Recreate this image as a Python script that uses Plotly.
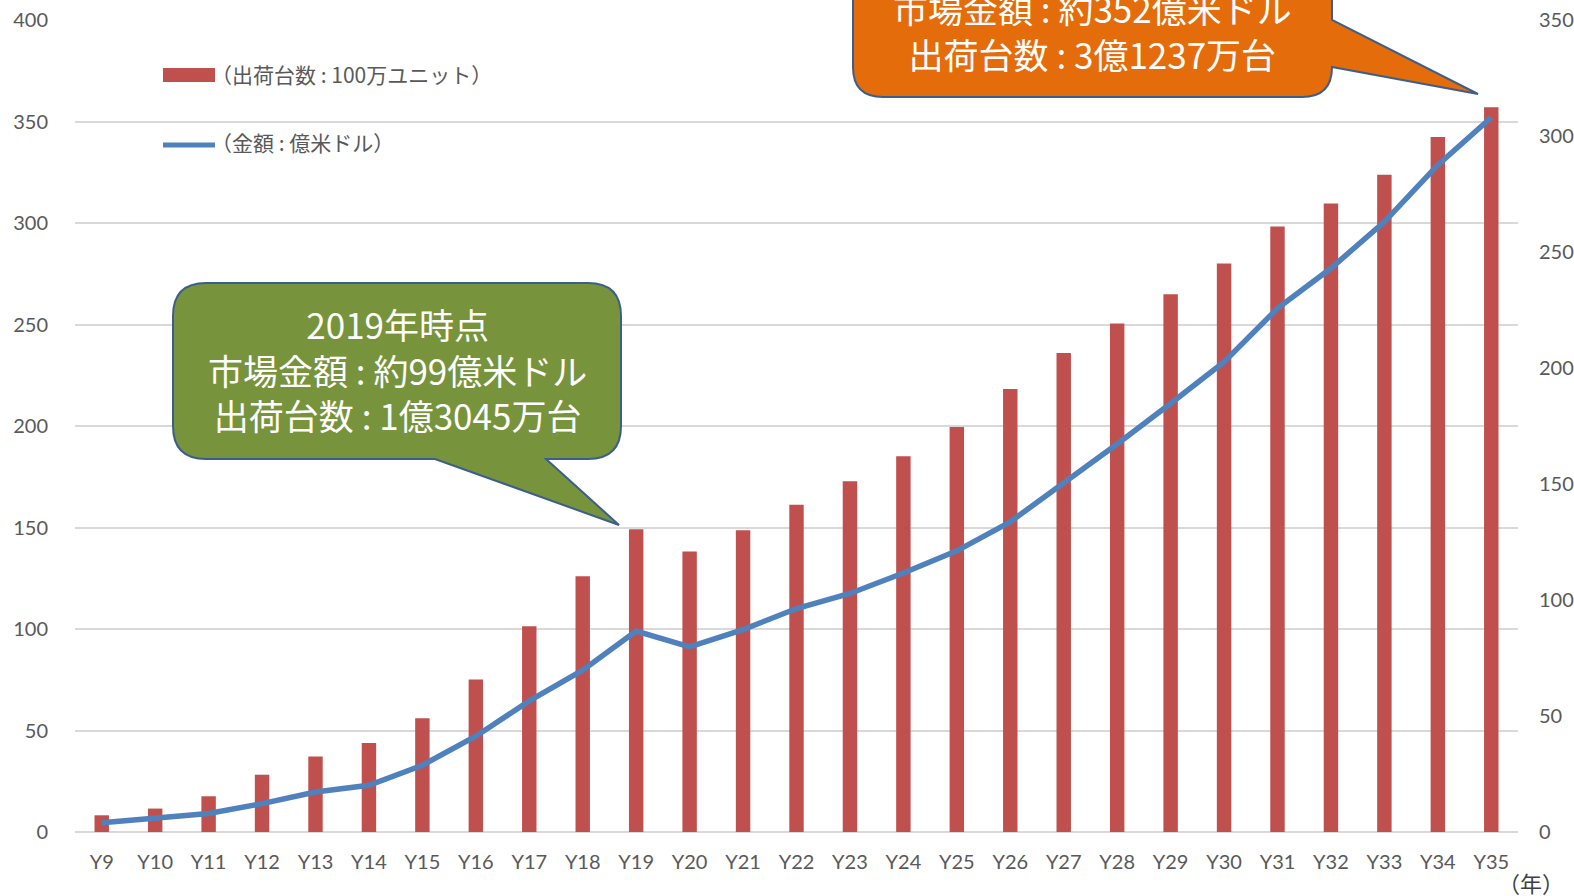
import plotly.graph_objects as go

# Years on the category axis
years = ["Y9", "Y10", "Y11", "Y12", "Y13", "Y14", "Y15", "Y16", "Y17", "Y18",
         "Y19", "Y20", "Y21", "Y22", "Y23", "Y24", "Y25", "Y26", "Y27", "Y28",
         "Y29", "Y30", "Y31", "Y32", "Y33", "Y34", "Y35"]

# Shipments (million units) - right axis
shipments = [7.2, 10.1, 15.4, 24.7, 32.5, 38.4, 49.0, 65.7, 88.7, 110.2,
             130.45, 120.9, 130.1, 141.1, 151.2, 162.0, 174.6, 191.0, 206.5, 219.2,
             231.8, 245.0, 261.0, 270.9, 283.3, 299.6, 312.37]

# Market value (100 million USD) - left axis
market_value = [4.6, 7.1, 9.1, 14.0, 19.7, 23.0, 32.9, 47.2, 64.6, 79.7,
                99, 91.2, 99.7, 110.1, 117.5, 127.6, 138.5, 152.8, 171.7, 191.1,
                211.1, 231.6, 258.0, 277.7, 300.6, 328.6, 352]

left_ticks = [0, 50, 100, 150, 200, 250, 300, 350, 400]
right_ticks = [0, 50, 100, 150, 200, 250, 300, 350]

legend_bar = "（出荷台数 : 100万ユニット）"
legend_line = "（金額 : 億米ドル）"
note_2019 = ["2019年時点", "市場金額 : 約99億米ドル", "出荷台数 : 1億3045万台"]
note_2035 = ["市場金額 : 約352億米ドル", "出荷台数 : 3億1237万台"]
x_unit = "（年）"

W, H = 1574, 896
ML, MR, MT, MB = 75, 56, 20, 64
PW, PH = W - ML - MR, H - MT - MB

BAR = "#C0504D"
LINE = "#4F81BD"
GRID = "#D9D9D9"
TXT = "#595959"
JP = "Noto Sans CJK JP"
NUM = "Lato, Noto Sans CJK JP"


def px(x):
    return (x - ML) / PW


def py(y):
    return (H - MB - y) / PH


def path(points_cmds):
    out = []
    for cmd, pts in points_cmds:
        coords = " ".join(f"{px(x):.5f},{py(y):.5f}" for x, y in pts)
        out.append(f"{cmd}{coords}")
    return " ".join(out) + " Z"


def callout_bottom_tail(x0, y0, x1, y1, r, t_left, t_right, tip):
    return path([
        ("M", [(x0 + r, y0)]),
        ("L", [(x1 - r, y0)]),
        ("Q", [(x1, y0), (x1, y0 + r)]),
        ("L", [(x1, y1 - r)]),
        ("Q", [(x1, y1), (x1 - r, y1)]),
        ("L", [(t_right, y1)]),
        ("L", [tip]),
        ("L", [(t_left, y1)]),
        ("L", [(x0 + r, y1)]),
        ("Q", [(x0, y1), (x0, y1 - r)]),
        ("L", [(x0, y0 + r)]),
        ("Q", [(x0, y0), (x0 + r, y0)]),
    ])


def callout_right_tail(x0, y0, x1, y1, r, t_top, t_bottom, tip):
    return path([
        ("M", [(x0 + r, y0)]),
        ("L", [(x1 - r, y0)]),
        ("Q", [(x1, y0), (x1, y0 + r)]),
        ("L", [(x1, t_top)]),
        ("L", [tip]),
        ("L", [(x1, t_bottom)]),
        ("L", [(x1, y1 - r)]),
        ("Q", [(x1, y1), (x1 - r, y1)]),
        ("L", [(x0 + r, y1)]),
        ("Q", [(x0, y1), (x0, y1 - r)]),
        ("L", [(x0, y0 + r)]),
        ("Q", [(x0, y0), (x0 + r, y0)]),
    ])


fig = go.Figure()

fig.add_trace(go.Bar(
    x=years, y=shipments, yaxis="y", width=0.27,
    marker=dict(color=BAR, line=dict(width=0)),
    name=legend_bar, showlegend=False,
))
fig.add_trace(go.Scatter(
    x=years, y=market_value, yaxis="y2", mode="lines",
    line=dict(color=LINE, width=5.5),
    name=legend_line, showlegend=False,
))

shapes = [
    # legend symbols
    dict(type="rect", xref="paper", yref="paper",
         x0=px(163), x1=px(215), y0=py(82), y1=py(68),
         fillcolor=BAR, line=dict(width=0)),
    dict(type="line", xref="paper", yref="paper",
         x0=px(163), x1=px(215), y0=py(145), y1=py(145),
         line=dict(color=LINE, width=5)),
    # 2019 callout
    dict(type="path", xref="paper", yref="paper",
         path=callout_bottom_tail(173, 283, 621, 459, 33, 435, 546, (619, 525)),
         fillcolor="#77933C", line=dict(color="#3B5E8C", width=2)),
    # 2035 callout
    dict(type="path", xref="paper", yref="paper",
         path=callout_right_tail(853, -80, 1332, 97, 30, 20, 67, (1478, 94)),
         fillcolor="#E46C0A", line=dict(color="#3B5E8C", width=2)),
]

annotations = [
    dict(xref="paper", yref="paper", x=px(209), y=py(74), text=legend_bar,
         showarrow=False, xanchor="left", yanchor="middle",
         font=dict(family=JP, size=21, color=TXT)),
    dict(xref="paper", yref="paper", x=px(209), y=py(142), text=legend_line,
         showarrow=False, xanchor="left", yanchor="middle",
         font=dict(family=JP, size=21, color=TXT)),
    dict(xref="paper", yref="paper", x=px(1531), y=py(882), text=x_unit,
         showarrow=False, xanchor="center", yanchor="middle",
         font=dict(family=JP, size=22, color="#404040")),
    dict(xref="paper", yref="paper", x=px(397), y=py(369),
         text="<br>".join(note_2019),
         showarrow=False, xanchor="center", yanchor="middle", align="center",
         font=dict(family=JP, size=35, color="white")),
    dict(xref="paper", yref="paper", x=px(1092), y=py(30),
         text="<br>".join(note_2035),
         showarrow=False, xanchor="center", yanchor="middle", align="center",
         font=dict(family=JP, size=35, color="white")),
]

fig.update_layout(
    width=W, height=H,
    margin=dict(l=ML, r=MR, t=MT, b=MB, autoexpand=False),
    paper_bgcolor="white", plot_bgcolor="white",
    showlegend=False,
    xaxis=dict(
        type="category", showgrid=False, showline=False, zeroline=False,
        ticks="", ticklabelstandoff=16, automargin=False,
        tickfont=dict(family=NUM, size=20, color=TXT),
        range=[-0.5, len(years) - 0.5],
    ),
    yaxis=dict(
        side="right", range=[0, 350], tickvals=right_ticks,
        showgrid=False, zeroline=False, showline=False, ticks="",
        ticklabelstandoff=20, automargin=False,
        tickfont=dict(family=NUM, size=20, color=TXT),
    ),
    yaxis2=dict(
        side="left", overlaying="y", range=[0, 400], tickvals=left_ticks,
        showgrid=True, gridcolor=GRID, gridwidth=1.5,
        zeroline=True, zerolinecolor=GRID, zerolinewidth=1.5,
        showline=False, ticks="", ticklabelstandoff=26, automargin=False,
        tickfont=dict(family=NUM, size=20, color=TXT),
    ),
    shapes=shapes,
    annotations=annotations,
)

fig.write_html("out.html")
